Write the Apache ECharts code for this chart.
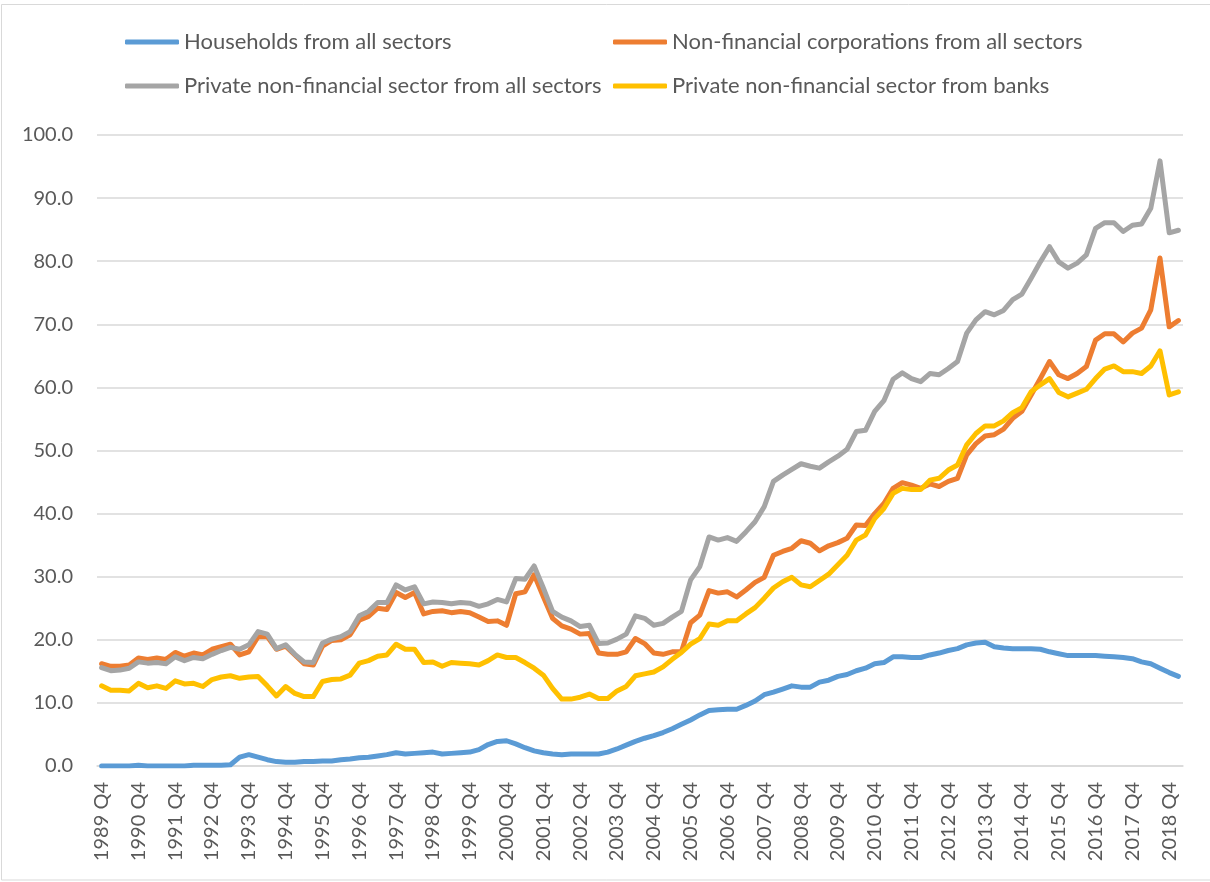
<!DOCTYPE html>
<html>
<head>
<meta charset="utf-8">
<script src="https://cdn.jsdelivr.net/npm/echarts@6/dist/echarts.min.js"></script>
<style>
html, body {margin: 0; padding: 0; background: #fff;}
#main {width: 1210px; height: 882px;}
</style>
</head>
<body>
<div id="main"></div>
<script>
var chart = echarts.init(document.getElementById('main'));

// quarterly, 1989 Q4 .. 2019 Q1
var quarters = [];
for (var q = 0; q < 118; q++) {
    var m = 3 + q; // 1989 Q4 is quarter index 3 of 1989
    quarters.push((1989 + Math.floor(m / 4)) + ' Q' + (m % 4 + 1));
}

var seriesNames = [
    'Households from all sectors',
    'Non-financial corporations from all sectors',
    'Private non-financial sector from all sectors',
    'Private non-financial sector from banks'
];

var households = [
    0.0, 0.0, 0.0, 0.0, 0.1, 0.0, 0.0, 0.0, 0.0, 0.0, 0.1, 0.1, 0.1, 0.1, 0.2, 1.4,
    1.8, 1.4, 1.0, 0.7, 0.6, 0.6, 0.7, 0.7, 0.8, 0.8, 1.0, 1.1, 1.3, 1.4, 1.6, 1.8,
    2.1, 1.9, 2.0, 2.1, 2.2, 1.9, 2.0, 2.1, 2.2, 2.6, 3.4, 3.9, 4.0, 3.5, 2.9, 2.4,
    2.1, 1.9, 1.8, 1.9, 1.9, 1.9, 1.9, 2.2, 2.7, 3.3, 3.9, 4.4, 4.8, 5.3, 5.9, 6.6,
    7.3, 8.1, 8.8, 8.9, 9.0, 9.0, 9.6, 10.3, 11.3, 11.7, 12.2, 12.7, 12.5, 12.5, 13.3, 13.6,
    14.2, 14.5, 15.1, 15.5, 16.2, 16.4, 17.3, 17.3, 17.2, 17.2, 17.6, 17.9, 18.3, 18.6, 19.2, 19.5,
    19.6, 18.9, 18.7, 18.6, 18.6, 18.6, 18.5, 18.1, 17.8, 17.5, 17.5, 17.5, 17.5, 17.4, 17.3, 17.2,
    17.0, 16.5, 16.2, 15.5, 14.8, 14.2
];

var corporations = [
    16.2, 15.8, 15.8, 16.0, 17.1, 16.9, 17.1, 16.9, 18.0, 17.4, 17.9, 17.6, 18.5, 18.9, 19.3, 17.6,
    18.1, 20.5, 20.5, 18.5, 19.0, 17.6, 16.2, 16.0, 19.0, 19.9, 20.0, 20.8, 23.1, 23.7, 25.0, 24.8,
    27.5, 26.7, 27.5, 24.1, 24.5, 24.6, 24.3, 24.5, 24.3, 23.6, 22.9, 23.0, 22.3, 27.3, 27.6, 30.3,
    26.8, 23.4, 22.2, 21.7, 20.9, 21.0, 17.9, 17.7, 17.7, 18.1, 20.2, 19.4, 17.9, 17.7, 18.1, 18.1,
    22.7, 23.9, 27.8, 27.4, 27.6, 26.8, 27.9, 29.1, 29.9, 33.4, 34.0, 34.5, 35.7, 35.3, 34.1, 34.9,
    35.4, 36.1, 38.2, 38.1, 40.0, 41.6, 44.0, 44.9, 44.5, 44.0, 44.7, 44.3, 45.1, 45.6, 49.3, 51.1,
    52.3, 52.5, 53.4, 55.1, 56.2, 58.8, 61.4, 64.1, 62.0, 61.4, 62.2, 63.3, 67.5, 68.5, 68.5, 67.2,
    68.6, 69.4, 72.3, 80.5, 69.6, 70.6
];

var privateAll = [
    15.6, 15.1, 15.2, 15.5, 16.5, 16.3, 16.4, 16.2, 17.3, 16.7, 17.2, 17.0, 17.7, 18.3, 18.8, 18.5,
    19.2, 21.3, 20.9, 18.6, 19.2, 17.7, 16.5, 16.4, 19.5, 20.1, 20.5, 21.3, 23.8, 24.5, 25.9, 25.9,
    28.7, 27.9, 28.4, 25.7, 26.0, 25.9, 25.7, 25.9, 25.8, 25.3, 25.7, 26.4, 26.0, 29.7, 29.6, 31.7,
    28.2, 24.5, 23.6, 23.0, 22.1, 22.3, 19.4, 19.5, 20.1, 20.9, 23.8, 23.4, 22.3, 22.6, 23.6, 24.5,
    29.5, 31.6, 36.3, 35.8, 36.2, 35.6, 37.1, 38.7, 41.1, 45.1, 46.1, 47.0, 47.9, 47.5, 47.2, 48.2,
    49.1, 50.2, 53.0, 53.2, 56.2, 57.9, 61.3, 62.3, 61.4, 60.9, 62.2, 62.0, 63.0, 64.1, 68.6, 70.7,
    72.0, 71.5, 72.2, 73.9, 74.8, 77.3, 79.9, 82.3, 79.9, 78.9, 79.7, 81.0, 85.2, 86.1, 86.1, 84.7,
    85.7, 85.9, 88.4, 95.9, 84.5, 84.9
];

var privateBanks = [
    12.7, 12.0, 12.0, 11.9, 13.1, 12.4, 12.7, 12.3, 13.5, 13.0, 13.1, 12.6, 13.7, 14.1, 14.3, 13.9,
    14.1, 14.2, 12.7, 11.1, 12.6, 11.5, 11.0, 11.0, 13.4, 13.7, 13.8, 14.4, 16.3, 16.7, 17.4, 17.6,
    19.3, 18.5, 18.5, 16.4, 16.5, 15.8, 16.4, 16.3, 16.2, 16.0, 16.7, 17.6, 17.2, 17.2, 16.4, 15.5,
    14.4, 12.3, 10.6, 10.6, 10.9, 11.4, 10.7, 10.7, 11.9, 12.6, 14.3, 14.6, 14.9, 15.7, 16.9, 18.0,
    19.3, 20.2, 22.5, 22.3, 23.0, 23.0, 24.1, 25.1, 26.6, 28.2, 29.2, 29.9, 28.7, 28.4, 29.4, 30.4,
    31.9, 33.4, 35.8, 36.6, 39.2, 40.8, 43.2, 44.0, 43.8, 43.8, 45.3, 45.6, 46.9, 47.7, 50.9, 52.7,
    53.9, 53.9, 54.7, 56.0, 56.8, 59.3, 60.4, 61.4, 59.2, 58.5, 59.1, 59.7, 61.4, 62.9, 63.4, 62.5,
    62.5, 62.2, 63.4, 65.8, 58.8, 59.3
];

var colors = ['#5b9bd5', '#ed7d31', '#a5a5a5', '#ffc000'];
var values = [households, corporations, privateAll, privateBanks];
var textColor = '#595959';
var fontFamily = 'Lato, "Noto Sans", sans-serif';

var legendPos = [[125, 30], [613, 30], [125, 74], [613, 74]];
var legends = [];
var series = [];
for (var i = 0; i < 4; i++) {
    legends.push({
        left: legendPos[i][0],
        top: legendPos[i][1],
        padding: 0,
        data: [seriesNames[i]],
        icon: 'roundRect',
        itemWidth: 54,
        itemHeight: 5,
        selectedMode: false,
        textStyle: {
            color: textColor,
            fontSize: 22,
            fontFamily: fontFamily,
            lineHeight: 24
        }
    });
    series.push({
        name: seriesNames[i],
        type: 'line',
        data: values[i],
        symbol: 'none',
        smooth: false,
        color: colors[i],
        lineStyle: {
            width: 5,
            color: colors[i],
            join: 'round',
            cap: 'round'
        }
    });
}

var option = {
    animation: false,
    backgroundColor: '#fff',
    legend: legends,
    grid: {
        left: 97,
        right: 27,
        top: 135,
        bottom: 116,
        containLabel: false
    },
    xAxis: {
        type: 'category',
        data: quarters,
        boundaryGap: true,
        axisLine: {
            lineStyle: {color: '#d9d9d9', width: 1.5}
        },
        axisTick: {show: false},
        axisLabel: {
            interval: 3,
            rotate: 90,
            margin: 16,
            color: textColor,
            fontSize: 20,
            fontFamily: fontFamily
        }
    },
    yAxis: {
        type: 'value',
        min: 0,
        max: 100,
        interval: 10,
        axisLine: {show: false},
        axisTick: {show: false},
        splitLine: {
            lineStyle: {color: '#d9d9d9', width: 1.5}
        },
        axisLabel: {
            margin: 24,
            color: textColor,
            fontSize: 20,
            fontFamily: fontFamily,
            formatter: function (v) {
                return v.toFixed(1);
            }
        }
    },
    graphic: [
        {
            type: 'rect',
            shape: {x: 1.5, y: 4.5, width: 1230, height: 875.5},
            style: {fill: 'none', stroke: '#d9d9d9', lineWidth: 1},
            silent: true
        }
    ],
    series: series
};
chart.setOption(option);
</script>
</body>
</html>
